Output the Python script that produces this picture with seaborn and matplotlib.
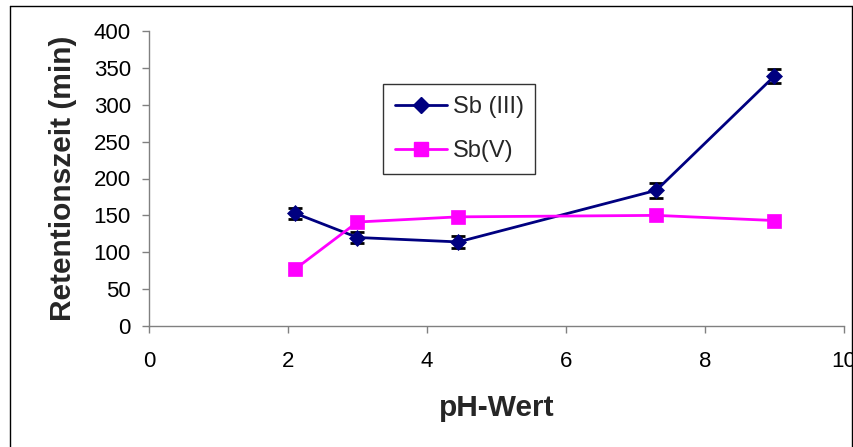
import matplotlib
matplotlib.use("Agg")
import matplotlib.pyplot as plt
import seaborn as sns
import pandas as pd
from matplotlib.lines import Line2D

# pH values and retention times
ph_sb3 = [2.1, 3.0, 4.45, 7.3, 9.0]
rt_sb3 = [153, 120, 114, 184, 339]
err_sb3 = [7.5, 7, 8.5, 10, 9]

ph_sb5 = [2.1, 3.0, 4.45, 7.3, 9.0]
rt_sb5 = [77, 141, 148, 150, 143]

series_names = ["Sb (III)", "Sb(V)"]
x_ticks = [0, 2, 4, 6, 8, 10]
y_ticks = [0, 50, 100, 150, 200, 250, 300, 350, 400]

sns.set_theme(style="white")
plt.rcParams["font.family"] = ["Liberation Sans", "DejaVu Sans"]

df = pd.DataFrame({
    "pH": ph_sb3 + ph_sb5,
    "rt": rt_sb3 + rt_sb5,
    "species": [series_names[0]] * len(ph_sb3) + [series_names[1]] * len(ph_sb5),
})

fig = plt.figure(figsize=(8.54, 4.47), dpi=100)
ax = fig.add_axes([149 / 854, 1 - 326 / 447, (844 - 149) / 854, (326 - 31) / 447])

colors = {series_names[0]: "#000080", series_names[1]: "#FF00FF"}

# error bars for Sb(III), drawn beneath the markers
ax.errorbar(ph_sb3, rt_sb3, yerr=err_sb3, fmt="none", ecolor="black",
            elinewidth=1.5, capsize=5, capthick=2, zorder=2)

sns.lineplot(data=df[df.species == series_names[0]], x="pH", y="rt", ax=ax,
             color=colors[series_names[0]], marker="D", markersize=8,
             markeredgewidth=0.5, markeredgecolor=colors[series_names[0]],
             linewidth=2, zorder=3, legend=False)
sns.lineplot(data=df[df.species == series_names[1]], x="pH", y="rt", ax=ax,
             color=colors[series_names[1]], marker="s", markersize=10.5,
             markeredgewidth=0.5, markeredgecolor=colors[series_names[1]],
             linewidth=2, zorder=3, legend=False)

ax.set_xlim(0, 10)
ax.set_ylim(0, 400)
ax.set_xticks(x_ticks)
ax.set_yticks(y_ticks)
ax.tick_params(axis="both", direction="out", length=5, width=1, color="#808080",
               labelsize=16, labelcolor="black", left=True, bottom=True)
ax.tick_params(axis="y", pad=8)
ax.tick_params(axis="x", pad=13)

for side in ["top", "right"]:
    ax.spines[side].set_visible(False)
for side in ["left", "bottom"]:
    ax.spines[side].set_color("#808080")
    ax.spines[side].set_linewidth(1)

ax.set_xlabel("pH-Wert", fontsize=21.5, fontweight="bold", labelpad=16)
ax.set_ylabel("Retentionszeit (min)", fontsize=21.5, fontweight="bold", labelpad=12)

handles = [
    Line2D([], [], color=colors[series_names[0]], marker="D", markersize=8,
           linewidth=2),
    Line2D([], [], color=colors[series_names[1]], marker="s", markersize=10.5,
           linewidth=2),
]
leg = ax.legend(handles, series_names, loc="upper left",
                bbox_to_anchor=((383 - 149) / 695, (326 - 84) / 295),
                fontsize=17, frameon=True, fancybox=False, handlelength=2.2,
                borderpad=0.5, labelspacing=0.95, handletextpad=0.25,
                borderaxespad=0)
leg.get_frame().set_edgecolor("black")
leg.get_frame().set_linewidth(1)

# frame around the whole figure
for xs, ys in [([10 / 854, 10 / 854], [0, 1 - 6 / 447]),
               ([10 / 854, 852 / 854], [1 - 6 / 447, 1 - 6 / 447]),
               ([852 / 854, 852 / 854], [0, 1 - 6 / 447])]:
    fig.add_artist(Line2D(xs, ys, color="black", linewidth=1))

fig.savefig("out.png", dpi=100)
